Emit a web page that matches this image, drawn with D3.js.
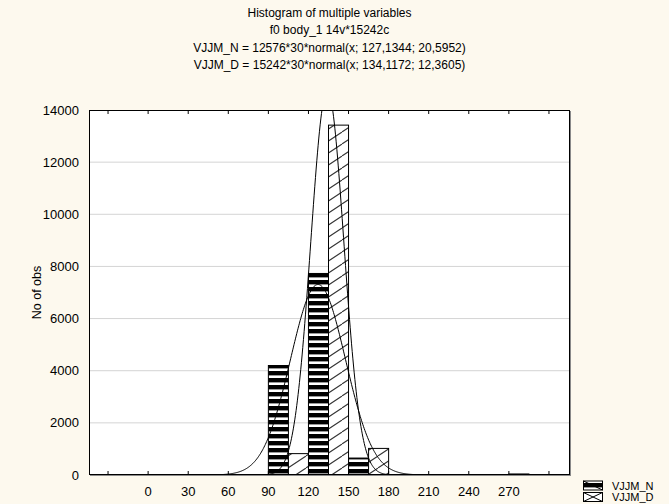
<!DOCTYPE html>
<html><head><meta charset="utf-8">
<script src="https://cdn.jsdelivr.net/npm/d3@7"></script>
<style>html,body{margin:0;padding:0;background:#fdf9ee;}svg{display:block;font-family:"Liberation Sans",Arial,sans-serif;}</style>
</head><body>
<svg id="c" width="669" height="504"></svg>
<script>
const titleLines = ["Histogram of multiple variables","f0 body_1 14v*15242c",
  "VJJM_N = 12576*30*normal(x; 127,1344; 20,5952)",
  "VJJM_D = 15242*30*normal(x; 134,1172; 12,3605)"];
const seriesNames = ["VJJM_N","VJJM_D"];
const binStarts = [60, 90, 120, 150, 180, 210, 240, 270];
const valuesN = [0, 4200, 7730, 650, 0, 0, 0, 40];
const valuesD = [0, 820, 13420, 1020, 0, 0, 0, 0];
const fitN = [12576, 30, 127.1344, 20.5952];
const fitD = [15242, 30, 134.1172, 12.3605];
const xTicks = [-30, 0, 30, 60, 90, 120, 150, 180, 210, 240, 270, 300];
const xTickLabels = ["", "0", "30", "60", "90", "120", "150", "180", "210", "240", "270", ""];
const yTicks = [0, 2000, 4000, 6000, 8000, 10000, 12000, 14000];
const yLabel = "No of obs";

const svg = d3.select("#c");
const L = 89, R = 570, T = 110, B = 475;
const x = d3.scaleLinear().domain([-44.25, 315.75]).range([L, R]);
const y = d3.scaleLinear().domain([0, 14000]).range([B, T]);
const binW = 30;

const defs = svg.append("defs");
const pN = defs.append("pattern").attr("id","pN").attr("patternUnits","userSpaceOnUse").attr("width",8).attr("height",7);
pN.append("rect").attr("width",8).attr("height",7).attr("fill","#fff");
pN.append("rect").attr("y",0).attr("width",8).attr("height",4).attr("fill","#000");
pN.append("rect").attr("y",4).attr("width",8).attr("height",1).attr("fill","#999");
const pD = defs.append("pattern").attr("id","pD").attr("patternUnits","userSpaceOnUse").attr("width",18).attr("height",12);
pD.append("rect").attr("width",18).attr("height",12).attr("fill","#fff");
pD.append("path").attr("d","M0,12 L18,0 M-18,12 L0,0 M18,12 L36,0").attr("stroke","#333").attr("stroke-width",1.1);
defs.append("clipPath").attr("id","clip").append("rect").attr("x",L).attr("y",T).attr("width",R-L).attr("height",B-T);

// titles
svg.selectAll("text.title").data(titleLines).enter().append("text")
  .attr("x",(L+R)/2).attr("y",(d,i)=>17+i*17.3).attr("text-anchor","middle")
  .attr("font-size",12).attr("fill","#000").text(d=>d);

// plot frame background + shadow
svg.append("rect").attr("x",L+1).attr("y",T+1).attr("width",R-L).attr("height",B-T).attr("fill","#8a8a8a");
svg.append("rect").attr("x",L).attr("y",T).attr("width",R-L).attr("height",B-T).attr("fill","#fff");

// gridlines
svg.append("g").selectAll("line").data(yTicks.filter(v=>v>0&&v<14000)).enter().append("line")
  .attr("x1",L).attr("x2",R).attr("y1",d=>y(d)).attr("y2",d=>y(d)).attr("stroke","#d4d4d4");

const plot = svg.append("g").attr("clip-path","url(#clip)");
const half = binW/2;
plot.selectAll("rect.n").data(binStarts.map((b,i)=>({b,v:valuesN[i]})).filter(d=>d.v>0)).enter().append("rect")
  .attr("x",d=>x(d.b)).attr("width",d=>x(d.b+half)-x(d.b)).attr("y",d=>y(d.v)).attr("height",d=>y(0)-y(d.v))
  .attr("fill","url(#pN)").attr("stroke","#000").attr("stroke-width",1);
plot.selectAll("rect.d").data(binStarts.map((b,i)=>({b,v:valuesD[i]})).filter(d=>d.v>0)).enter().append("rect")
  .attr("x",d=>x(d.b+half)).attr("width",d=>x(d.b+binW)-x(d.b+half)).attr("y",d=>y(d.v)).attr("height",d=>y(0)-y(d.v))
  .attr("fill","url(#pD)").attr("stroke","#000").attr("stroke-width",1);

// fitted normal curves (parameters from the chart's own title lines)
function normal(p, v){ const [n,w,m,s]=p; return n*w*Math.exp(-0.5*((v-m)/s)**2)/(s*Math.sqrt(2*Math.PI)); }
const xs = d3.range(-44.25, 316, 0.5);
const line = d3.line().x(d=>x(d[0])).y(d=>y(d[1]));
[fitN, fitD].forEach(p=>{
  plot.append("path").attr("d", line(xs.map(v=>[v, normal(p,v)]))).attr("fill","none").attr("stroke","#000").attr("stroke-width",1);
});

// frame
svg.append("rect").attr("x",L+0.5).attr("y",T+0.5).attr("width",R-L-1).attr("height",B-T-1).attr("fill","none").attr("stroke","#000");

// x ticks (inward, bottom & top)
const xt = svg.append("g");
xTicks.forEach(v=>{
  xt.append("line").attr("x1",x(v)).attr("x2",x(v)).attr("y1",B-1).attr("y2",B-4).attr("stroke","#000");
  xt.append("line").attr("x1",x(v)).attr("x2",x(v)).attr("y1",T+1).attr("y2",T+4).attr("stroke","#000");
});
svg.append("g").selectAll("text").data(xTicks.map((v,i)=>({v,l:xTickLabels[i]})).filter(d=>d.l)).enter().append("text")
  .attr("x",d=>x(d.v)).attr("y",496).attr("text-anchor","middle").attr("font-size",13).text(d=>d.l);

// y labels
svg.append("g").selectAll("text").data(yTicks).enter().append("text")
  .attr("x",79).attr("y",d=>y(d)+4.5).attr("text-anchor","end").attr("font-size",13).text(d=>d);
svg.append("text").attr("transform",`translate(41,${(T+B)/2}) rotate(-90)`).attr("text-anchor","middle")
  .attr("font-size",12.5).text(yLabel);

// legend
const lg = svg.append("g");
seriesNames.forEach((nm,i)=>{
  const yy = 481 + i*11.5;
  if(i===0){
    lg.append("rect").attr("x",583.5).attr("y",yy).attr("width",19).attr("height",9).attr("fill","url(#pN)").attr("stroke","#000");
    lg.append("line").attr("x1",583.5).attr("y1",yy).attr("x2",602.5).attr("y2",yy+9).attr("stroke","#000");
  } else {
    lg.append("rect").attr("x",583.5).attr("y",yy).attr("width",19).attr("height",9).attr("fill","#fff").attr("stroke","#000");
    lg.append("path").attr("d",`M583.5,${yy} L602.5,${yy+9} M583.5,${yy+9} L602.5,${yy}`).attr("stroke","#000");
  }
  lg.append("text").attr("x",612).attr("y",yy+8.5).attr("font-size",11).text(nm);
});
</script>
</body></html>
